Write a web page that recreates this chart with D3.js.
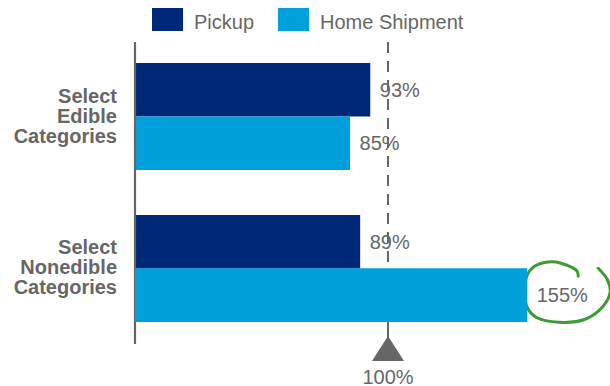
<!DOCTYPE html>
<html>
<head>
<meta charset="utf-8">
<script src="https://cdn.jsdelivr.net/npm/d3@7"></script>
<style>
  html, body { margin: 0; padding: 0; background: #fff; }
  svg { display: block; font-family: "Liberation Sans", Arial, sans-serif; }
</style>
</head>
<body>
<svg id="chart" width="610" height="386"></svg>
<script>
// ---- data ----
const categories = [["Select", "Edible", "Categories"], ["Select", "Nonedible", "Categories"]];
const categoryKeys = ["Edible", "Nonedible"];
const seriesNames = ["Pickup", "Home Shipment"];
const pickupValues = [93, 89];
const homeShipmentValues = [85, 155];
const referenceValue = 100;
const referenceLabel = "100%";
const highlighted = { category: "Nonedible", series: "Home Shipment" };

const colors = { "Pickup": "#002878", "Home Shipment": "#00a0dc" };
const textGray = "#666666";

const svg = d3.select("#chart");

const x = d3.scaleLinear().domain([0, 100]).range([135, 388]);
const y = d3.scaleBand().domain(categoryKeys).range([63, 322]).paddingInner(0.296).paddingOuter(0);
const ySub = d3.scaleBand().domain(seriesNames).range([0, y.bandwidth()]).padding(0);

const rows = [];
categoryKeys.forEach((c, i) => {
  rows.push({ cat: c, series: "Pickup", value: pickupValues[i] });
  rows.push({ cat: c, series: "Home Shipment", value: homeShipmentValues[i] });
});

// bars
svg.append("g").selectAll("rect").data(rows).join("rect")
  .attr("x", x(0))
  .attr("y", d => y(d.cat) + ySub(d.series))
  .attr("width", d => x(d.value) - x(0))
  .attr("height", ySub.bandwidth())
  .attr("fill", d => colors[d.series]);

// vertical axis line
svg.append("line")
  .attr("x1", x(0)).attr("x2", x(0))
  .attr("y1", 42).attr("y2", 344)
  .attr("stroke", "#666").attr("stroke-width", 2.2);

// reference dashed line
const yEnd = y(categoryKeys[1]) + y.bandwidth();
svg.append("line")
  .attr("x1", x(referenceValue)).attr("x2", x(referenceValue))
  .attr("y1", 42).attr("y2", yEnd)
  .attr("stroke", "#666").attr("stroke-width", 2)
  .attr("stroke-dasharray", "11,8");
svg.append("line")
  .attr("x1", x(referenceValue)).attr("x2", x(referenceValue))
  .attr("y1", yEnd).attr("y2", 338)
  .attr("stroke", "#666").attr("stroke-width", 2);
// triangle marker
const rx = x(referenceValue);
svg.append("path")
  .attr("d", `M${rx},336 L${rx + 16},361 L${rx - 16},361 Z`)
  .attr("fill", "#666");
svg.append("text")
  .attr("x", rx).attr("y", 383.5)
  .attr("text-anchor", "middle")
  .attr("font-size", 20)
  .attr("fill", textGray)
  .text(referenceLabel);

// value labels
svg.append("g").selectAll("text").data(rows).join("text")
  .attr("x", d => x(d.value) + 9.5)
  .attr("y", d => y(d.cat) + ySub(d.series) + ySub.bandwidth() / 2 + 7.2)
  .attr("font-size", 20)
  .attr("fill", textGray)
  .text(d => d.value + "%");

// category labels
const catG = svg.append("g");
categoryKeys.forEach((c, i) => {
  const cy = y(c) + y.bandwidth() / 2 + 6;
  const t = catG.append("text")
    .attr("text-anchor", "end")
    .attr("font-size", 20)
    .attr("font-weight", "bold")
    .attr("fill", textGray);
  categories[i].forEach((line, j) => {
    t.append("tspan").attr("x", 117).attr("y", cy + (j - 1) * 20).text(line);
  });
});

// legend
const legend = [
  { name: seriesNames[0], sx: 152, tx: 194 },
  { name: seriesNames[1], sx: 278, tx: 320 }
];
const lg = svg.append("g");
legend.forEach(l => {
  lg.append("rect").attr("x", l.sx).attr("y", 8).attr("width", 31).attr("height", 23)
    .attr("fill", colors[l.name]);
  lg.append("text").attr("x", l.tx).attr("y", 28.5)
    .attr("font-size", 20).attr("fill", textGray).text(l.name);
});

// hand-drawn highlight loop around highlighted value
const hi = rows.find(r => r.cat === highlighted.category && r.series === highlighted.series);
const hx = x(hi.value);
const hy = y(hi.cat) + ySub(hi.series) + ySub.bandwidth() / 2;
const loopPts = [
  [51, -19], [50, -24], [34, -32], [19, -33], [6, -28], [0, -20],
  [-3, -5], [0, 12], [9, 22], [32, 27], [58, 24], [76, 11],
  [83, -3], [80, -16], [71, -27]
].map(([dx, dy]) => [hx + dx, hy + dy]);
svg.append("path")
  .attr("d", d3.line().curve(d3.curveCatmullRom.alpha(0.5))(loopPts))
  .attr("fill", "none")
  .attr("stroke", "#3d9b35")
  .attr("stroke-width", 3)
  .attr("stroke-linecap", "round");
// redraw bar over loop's hidden left side
svg.append("rect")
  .attr("x", x(0)).attr("y", y(hi.cat) + ySub(hi.series))
  .attr("width", hx - x(0)).attr("height", ySub.bandwidth())
  .attr("fill", colors[hi.series]);
</script>
</body>
</html>
